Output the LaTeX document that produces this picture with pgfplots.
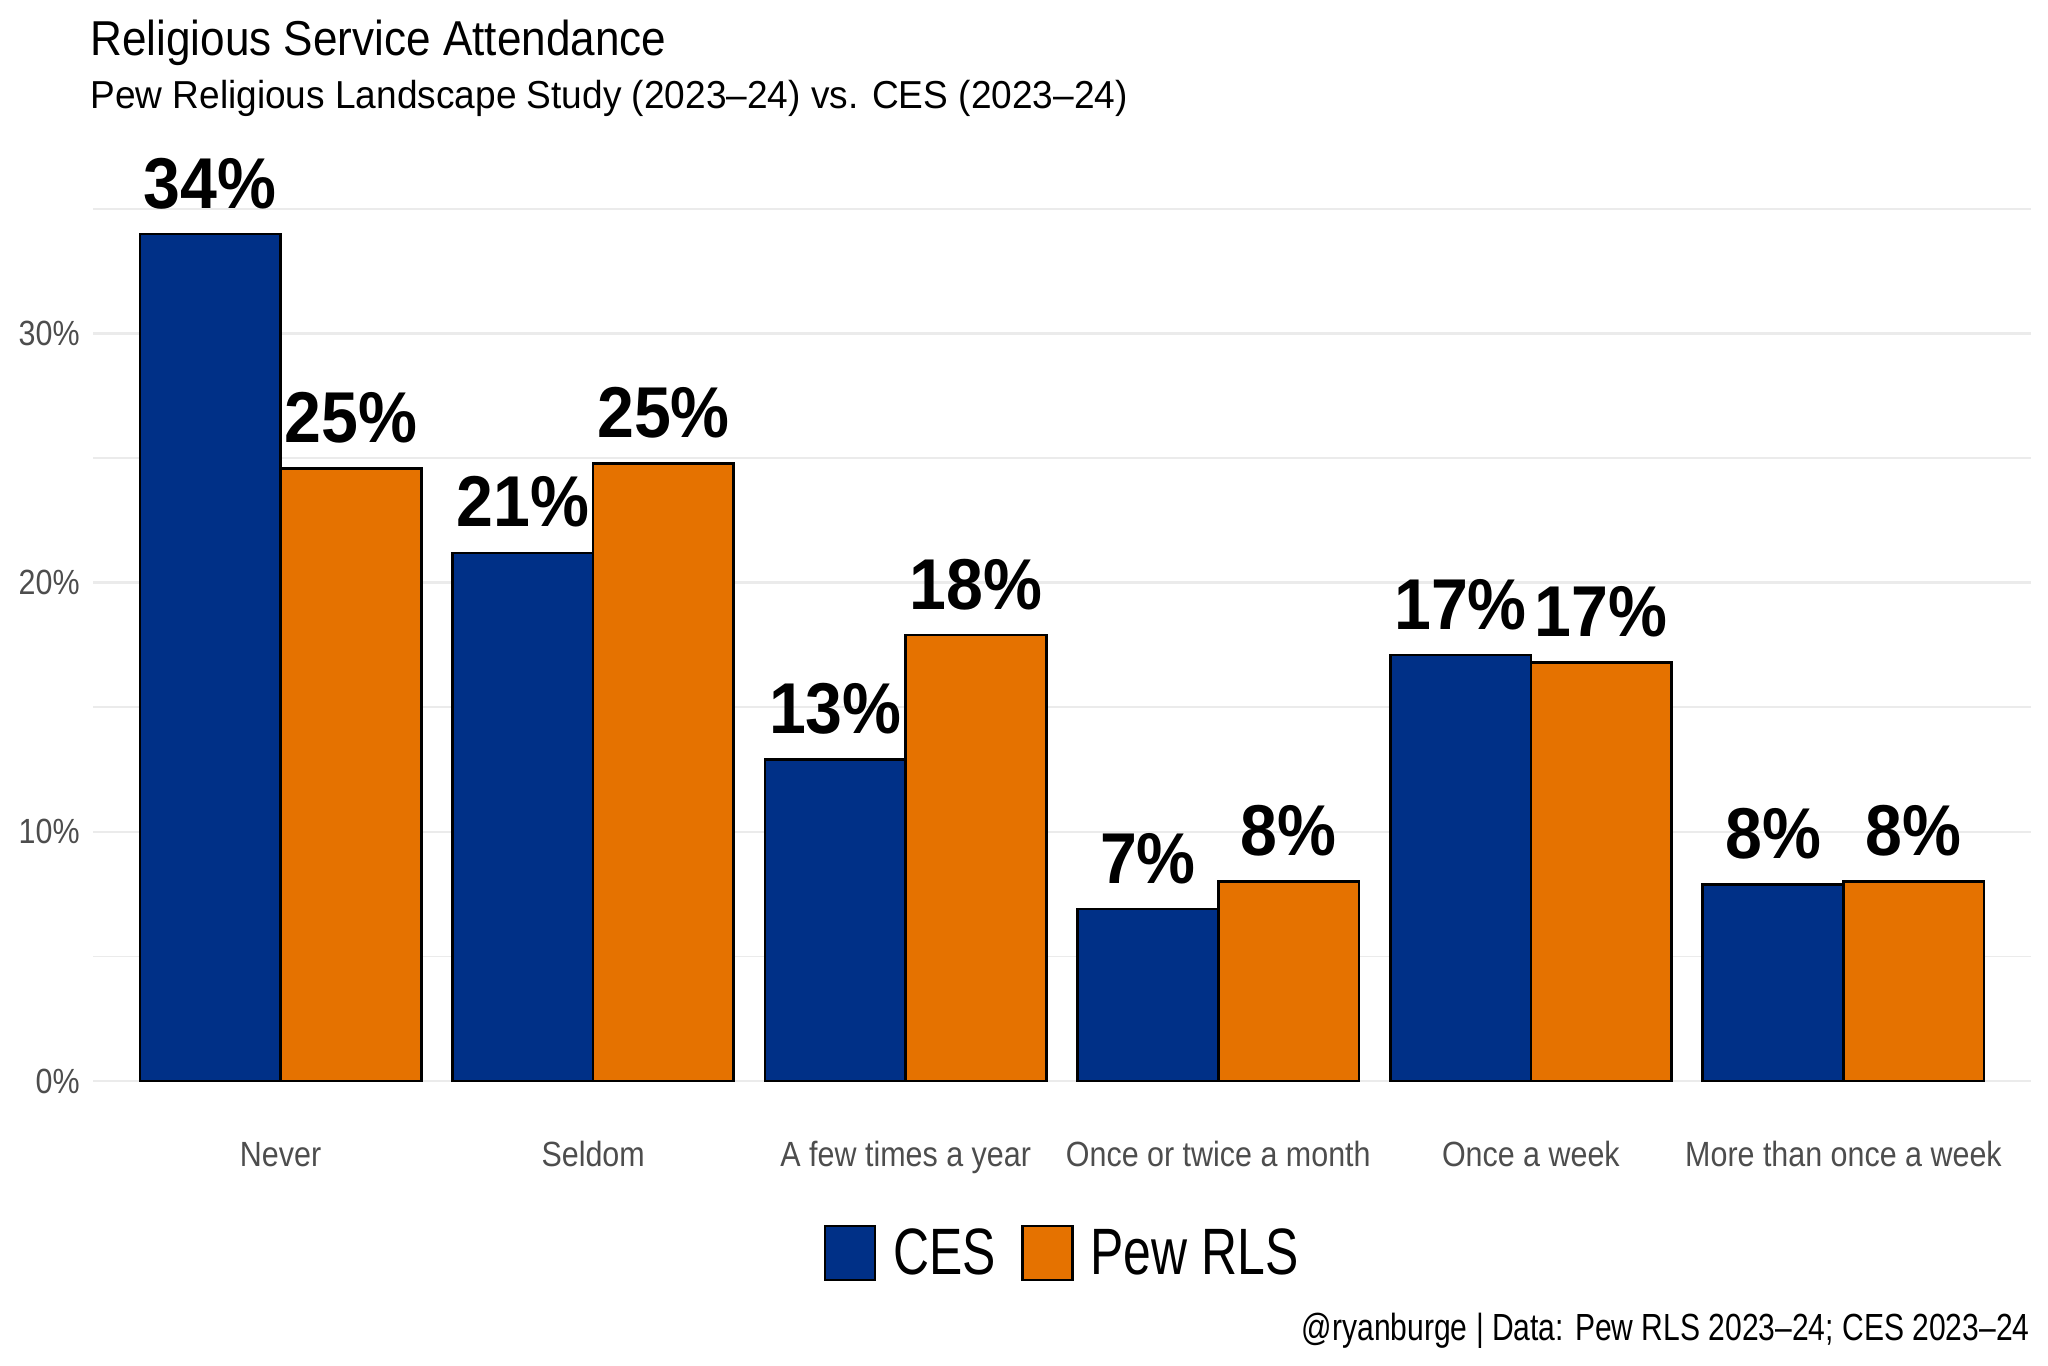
\documentclass[border=0pt]{standalone}
\usepackage{pgfplots}
\pgfplotsset{compat=1.18}
\usepackage{fontspec}
\setmainfont{Liberation Sans}
\newfontfamily\titlefont{Liberation Sans}[FakeStretch=0.90]
\newfontfamily\subfont{Liberation Sans}[FakeStretch=0.95]
\newfontfamily\capfont{Liberation Sans}[FakeStretch=0.795]
\newfontfamily\tickfont{Liberation Sans}[FakeStretch=0.87]
\newfontfamily\legfont{Liberation Sans}[FakeStretch=0.76]
\newfontfamily\lblfont{Liberation Sans}[FakeStretch=0.92]
\definecolor{cesblue}{HTML}{003087}
\definecolor{pewor}{HTML}{E57200}
\definecolor{gridc}{HTML}{EBEBEB}
\definecolor{tickc}{HTML}{4D4D4D}
\pgfplotsset{boxlegend/.style={legend image code/.code={\draw[##1, line width=1.35pt] (0pt,-13.5pt) rectangle (25pt,13.5pt);}}}
\begin{document}
\begin{tikzpicture}
\useasboundingbox (0,0) rectangle (1024pt,-682.5pt);
\node[anchor=base west, inner sep=0pt] at (45pt,-27.5pt)
  {\fontsize{24.5pt}{29pt}\selectfont\titlefont Religious Service Attendance};
\node[anchor=base west, inner sep=0pt] at (45pt,-54pt)
  {\fontsize{19.5pt}{23pt}\selectfont\subfont Pew Religious Landscape Study (2023–24) vs. CES (2023–24)};
\node[anchor=base east, inner sep=0pt] at (1015pt,-670pt)
  {\fontsize{18.9pt}{22pt}\selectfont\capfont @ryanburge | Data: Pew RLS 2023–24; CES 2023–24};
\begin{axis}[
  at={(46.5pt,-561.65pt)}, anchor=south west,
  scale only axis, width=969pt, height=465.8pt,
  xmin=0.4, xmax=6.6, ymin=-1.7, ymax=35.7,
  clip=false,
  ybar=0pt, bar width=0.45,
  axis line style={draw=none},
  major tick length=0pt, minor tick length=0pt,
  xtick={1,2,3,4,5,6},
  xticklabels={Never,Seldom,A few times a year,Once or twice a month,Once a week,More than once a week},
  ytick={0,10,20,30},
  yticklabels={0\%,10\%,20\%,30\%},
  minor ytick={5,15,25,35},
  ymajorgrids=true, yminorgrids=true, xmajorgrids=false,
  major grid style={draw=gridc, line width=1.35pt},
  minor grid style={draw=gridc, line width=0.85pt},
  xticklabel style={font=\fontsize{17.5pt}{20pt}\selectfont\tickfont, text=tickc, anchor=base, inner sep=0pt, yshift=-21.35pt},
  yticklabel style={font=\fontsize{17.5pt}{20pt}\selectfont\tickfont, text=tickc, anchor=east, inner sep=0pt, xshift=-6.5pt},
  legend style={at={(0.4995,-0.1392)}, anchor=center, draw=none, fill=none,
    inner sep=0pt, outer sep=0pt,
    font=\fontsize{32.8pt}{36pt}\selectfont\legfont,
    legend columns=-1,
    nodes={inner sep=0pt},
    /tikz/every odd column/.append style={column sep=8.5pt},
    /tikz/every even column/.append style={column sep=12.5pt}},
  point meta=y,
  nodes near coords={\pgfmathprintnumber[fixed,precision=0,assume math mode=true]{\pgfplotspointmeta}\%},
  every node near coord/.append style={font=\fontsize{36pt}{40pt}\selectfont\lblfont\bfseries, text=black, anchor=base, inner sep=0pt, yshift=13pt},
]
\addplot[fill=cesblue, draw=black, line width=1.35pt, boxlegend]
  coordinates {(1,34.0) (2,21.2) (3,12.9) (4,6.9) (5,17.1) (6,7.9)};
\addlegendentry{CES}
\addplot[fill=pewor, draw=black, line width=1.35pt, boxlegend]
  coordinates {(1,24.6) (2,24.8) (3,17.9) (4,8.0) (5,16.8) (6,8.0)};
\addlegendentry{Pew RLS}
\end{axis}
\end{tikzpicture}
\end{document}
